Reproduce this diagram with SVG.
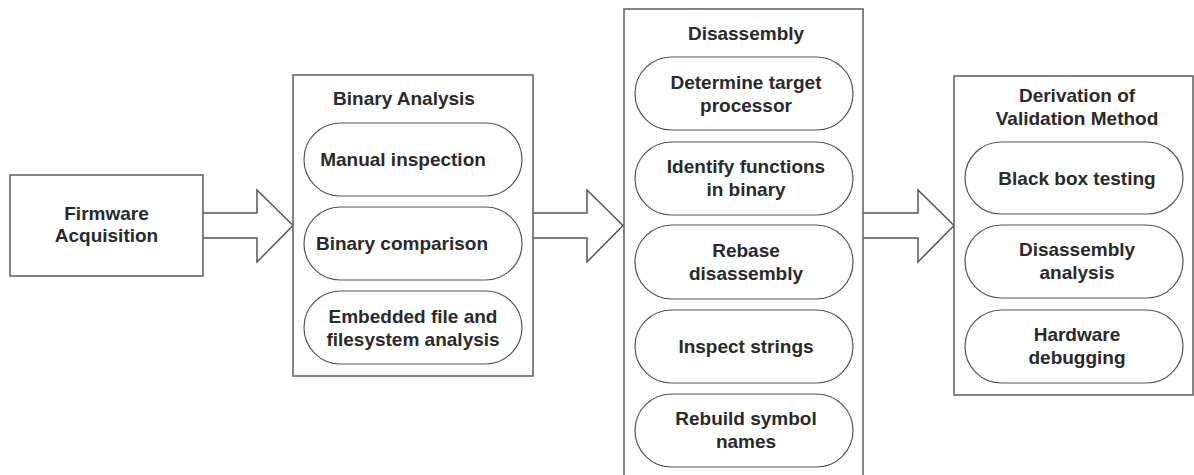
<svg xmlns="http://www.w3.org/2000/svg" width="1194" height="475" viewBox="0 0 1194 475">
<style>
.box{fill:#fff;stroke:#666;stroke-width:1.6}
.pill{fill:#fff;stroke:#555;stroke-width:1.2}
.arr{fill:#fff;stroke:#555;stroke-width:1.5;stroke-linejoin:miter}
text{font-family:"Liberation Sans",Arial,sans-serif;font-weight:bold;font-size:19px;fill:#2a2a2a;text-anchor:middle}
</style>
<rect width="1194" height="475" fill="#fff"/>
<g id="connectors">
<polyline class="arr" points="203,213 257,213 257,190 293,225.5 257,262 257,238 203,238"/>
<polyline class="arr" points="533,213 587,213 587,190 623,225.5 587,262 587,238 533,238"/>
<polyline class="arr" points="863,213 918,213 918,190 954,225.5 918,262 918,238 863,238"/>
</g>
<g id="firmware">
<rect class="box" x="10" y="175" width="193" height="101"/>
<text x="106.5" y="220">Firmware</text>
<text x="106.5" y="242">Acquisition</text>
</g>
<g id="binary-analysis">
<rect class="box" x="293" y="75" width="240" height="301"/>
<text x="404" y="105">Binary Analysis</text>
<g id="manual-inspection">
<rect class="pill" x="304" y="123" width="218" height="73" rx="36.5"/>
<text x="403" y="166">Manual inspection</text>
</g>
<g id="binary-comparison">
<rect class="pill" x="304" y="207" width="218" height="73" rx="36.5"/>
<text x="402" y="250">Binary comparison</text>
</g>
<g id="embedded-file">
<rect class="pill" x="304" y="291" width="218" height="73" rx="36.5"/>
<text x="413" y="323">Embedded file and</text>
<text x="413" y="346">filesystem analysis</text>
</g>
</g>
<g id="disassembly">
<rect class="box" x="624" y="9" width="239" height="480"/>
<text x="746" y="40">Disassembly</text>
<g id="target-processor">
<rect class="pill" x="635" y="57" width="218" height="73" rx="36.5"/>
<text x="746" y="89">Determine target</text>
<text x="746" y="112">processor</text>
</g>
<g id="identify-functions">
<rect class="pill" x="635" y="142" width="218" height="73" rx="36.5"/>
<text x="746" y="173">Identify functions</text>
<text x="746" y="196">in binary</text>
</g>
<g id="rebase">
<rect class="pill" x="635" y="225" width="218" height="74" rx="37"/>
<text x="746" y="257">Rebase</text>
<text x="746" y="280">disassembly</text>
</g>
<g id="inspect-strings">
<rect class="pill" x="635" y="310" width="218" height="73" rx="36.5"/>
<text x="746" y="353">Inspect strings</text>
</g>
<g id="rebuild-symbols">
<rect class="pill" x="635" y="394" width="218" height="73" rx="36.5"/>
<text x="746" y="425">Rebuild symbol</text>
<text x="746" y="448">names</text>
</g>
</g>
<g id="derivation">
<rect class="box" x="954" y="76" width="239" height="319"/>
<text x="1077" y="102">Derivation of</text>
<text x="1077" y="125">Validation Method</text>
<g id="black-box">
<rect class="pill" x="965" y="142" width="218" height="72" rx="36"/>
<text x="1077" y="185">Black box testing</text>
</g>
<g id="disassembly-analysis">
<rect class="pill" x="965" y="225" width="218" height="73" rx="36.5"/>
<text x="1077" y="256">Disassembly</text>
<text x="1077" y="279">analysis</text>
</g>
<g id="hardware-debugging">
<rect class="pill" x="965" y="310" width="218" height="73" rx="36.5"/>
<text x="1077" y="341">Hardware</text>
<text x="1077" y="364">debugging</text>
</g>
</g>
</svg>
